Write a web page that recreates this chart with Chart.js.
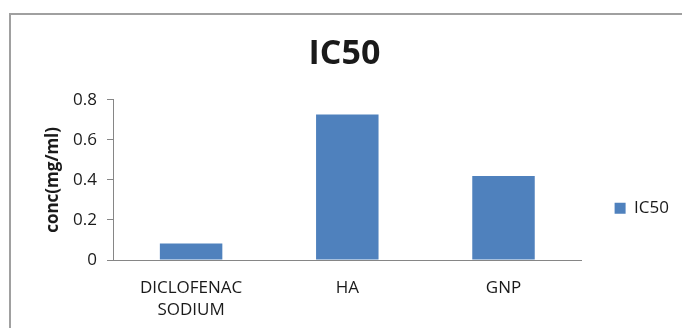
<!DOCTYPE html>
<html>
<head>
<meta charset="utf-8">
<script src="https://cdn.jsdelivr.net/npm/chart.js@4"></script>
<style>
  html, body { margin: 0; padding: 0; background: #fff; overflow: hidden; }
  #frame { position: absolute; left: 9px; top: 13px; width: 720px; height: 400px; border: 2px solid #a0a0a0; }
  #wrap { position: absolute; left: 0; top: 0; width: 682px; height: 328px; }
</style>
</head>
<body>
<div id="frame"></div>
<div id="wrap"><canvas id="myChart"></canvas></div>
<script>
var ctx = document.getElementById('myChart');

var samples = [['DICLOFENAC', 'SODIUM'], 'HA', 'GNP'];
var ic50 = [0.083, 0.727, 0.42];
var yTicks = [0, 0.2, 0.4, 0.6, 0.8];

var font = '"Open Sans", sans-serif';
var ink = '#1a1a1a';

var myChart = new Chart(ctx, {
    type: 'bar',
    data: {
        labels: samples,
        datasets: [{
            label: 'IC50',
            data: ic50,
            backgroundColor: '#4F81BD',
            borderWidth: 0,
            categoryPercentage: 1,
            barPercentage: 0.4
        }]
    },
    options: {
        responsive: true,
        maintainAspectRatio: false,
        animation: false,
        layout: { padding: { left: 10, right: 3, top: 0, bottom: 6 } },
        plugins: {
            title: {
                display: true,
                text: 'IC50',
                color: ink,
                font: { family: font, size: 34, weight: 'bold' },
                padding: { top: 34, bottom: 25 }
            },
            legend: {
                position: 'right',
                maxWidth: 104,
                // empty legend title only pushes the key down to where Excel put it
                title: { display: true, text: '', padding: 40 },
                labels: {
                    color: ink,
                    boxWidth: 11,
                    boxHeight: 11,
                    padding: 33,
                    font: { family: font, size: 17 }
                }
            },
            tooltip: { enabled: false }
        },
        scales: {
            x: {
                afterFit: function (axis) { axis.height = 62; },
                grid: { display: false, drawTicks: false },
                border: { color: '#868686', width: 1 },
                ticks: {
                    color: ink,
                    padding: 17,
                    maxRotation: 0,
                    font: { family: font, size: 17, lineHeight: 1.3 }
                }
            },
            y: {
                min: 0,
                max: 0.8,
                afterBuildTicks: function (axis) {
                    axis.ticks = yTicks.map(function (v) { return { value: v }; });
                },
                afterFit: function (axis) { axis.width = 103; },
                grid: { display: true, drawOnChartArea: false, drawTicks: true, tickLength: 6, color: '#868686' },
                border: { color: '#868686', width: 1 },
                ticks: {
                    color: ink,
                    padding: 10,
                    font: { family: font, size: 17 },
                    callback: function (v) { return String(Math.round(v * 10) / 10); }
                },
                title: {
                    display: true,
                    text: 'conc(mg/ml)',
                    color: ink,
                    font: { family: font, size: 17, weight: 'bold' },
                    padding: { top: 33, bottom: 4 }
                }
            }
        }
    }
});
</script>
</body>
</html>
